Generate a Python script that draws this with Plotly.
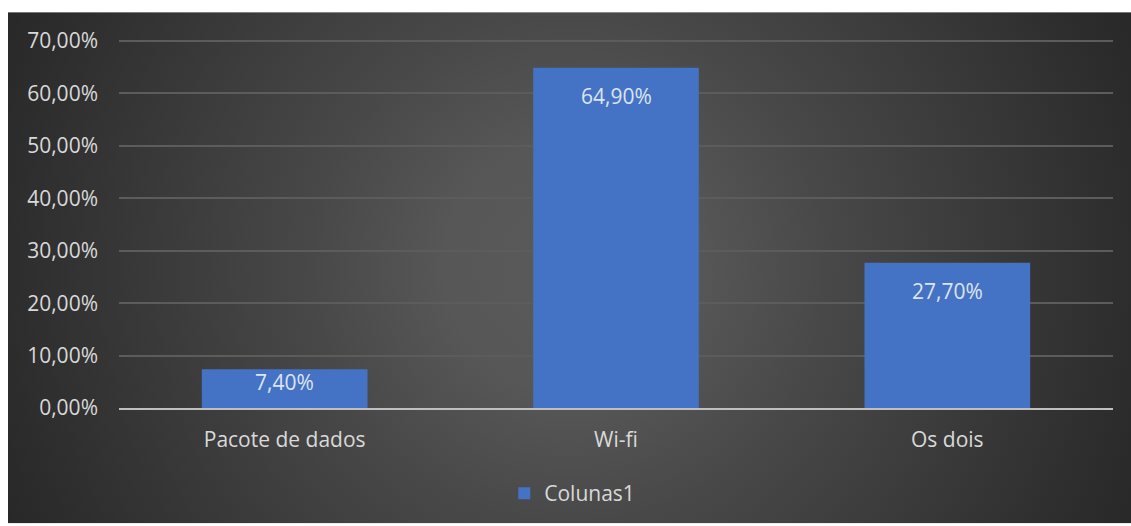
import plotly.graph_objects as go
from urllib.parse import quote

# Chart data
categories = ["Pacote de dados", "Wi-fi", "Os dois"]
values = [0.074, 0.649, 0.277]
series_name = "Colunas1"
tick_vals = [0.0, 0.1, 0.2, 0.3, 0.4, 0.5, 0.6, 0.7]
tick_text = ["0,00%", "10,00%", "20,00%", "30,00%", "40,00%", "50,00%", "60,00%", "70,00%"]

W, H = 1131, 526
# plot-area margins in pixels
ML, MR, MT, MB = 119, 18, 40, 116
PW, PH = W - ML - MR, H - MT - MB
YMAX = 0.7
YTOP = YMAX + 0.002  # a hair of headroom so the top gridline is drawn

# dark chart panel (starts a few pixels in from the top-left corner)
PX0, PY0 = 8, 12
BW, BH = W - PX0, H - PY0

FONT = "Open Sans"
FS = 21
TICK_COLOR = "#d9d9d9"
LABEL_COLOR = "#dde4f0"
BAR_COLOR = "#4472c4"


def pct(v):
    return f"{v * 100:.2f}".replace(".", ",") + "%"


# radial gradient backdrop as inline svg
svg = (
    f'<svg xmlns="http://www.w3.org/2000/svg" width="{BW}" height="{BH}">'
    f'<defs><radialGradient id="g" gradientUnits="userSpaceOnUse" '
    f'cx="{BW / 2}" cy="{BH / 2}" r="620">'
    '<stop offset="0" stop-color="#5a5a5a"/>'
    '<stop offset="0.2" stop-color="#575757"/>'
    '<stop offset="0.42" stop-color="#484848"/>'
    '<stop offset="0.9" stop-color="#2d2d2d"/>'
    '<stop offset="1" stop-color="#282828"/>'
    '</radialGradient></defs>'
    f'<rect width="{BW}" height="{BH}" fill="url(#g)"/></svg>'
)
bg_src = "data:image/svg+xml;charset=utf-8," + quote(svg)

fig = go.Figure()
fig.add_trace(go.Bar(
    x=categories,
    y=values,
    name=series_name,
    marker=dict(color=BAR_COLOR, line=dict(width=0)),
    width=0.5,
    showlegend=True,
    hoverinfo="skip",
))

# value labels just inside the top of each bar
annotations = []
for cat, v in zip(categories, values):
    bar_px = v / YTOP * PH
    offset = min(28, bar_px / 3)
    annotations.append(dict(
        x=cat, y=v, xref="x", yref="y",
        text=pct(v), showarrow=False,
        yanchor="middle", yshift=-offset,
        font=dict(family=FONT, size=FS, color=LABEL_COLOR),
    ))

fig.update_layout(
    width=W, height=H,
    margin=dict(l=ML, r=MR, t=MT, b=MB, pad=0),
    paper_bgcolor="white",
    plot_bgcolor="rgba(0,0,0,0)",
    font=dict(family=FONT, size=FS, color=TICK_COLOR),
    bargap=0.5,
    images=[dict(
        source=bg_src, xref="paper", yref="paper",
        x=(PX0 - ML) / PW, y=(H - MB - PY0) / PH,
        sizex=BW / PW, sizey=BH / PH,
        xanchor="left", yanchor="top",
        sizing="stretch", layer="below",
    )],
    xaxis=dict(
        showgrid=False, zeroline=False,
        showline=True, linecolor="#bfbfbf", linewidth=2,
        ticks="outside", ticklen=12, tickcolor="rgba(0,0,0,0)",
        tickfont=dict(family=FONT, size=FS, color=TICK_COLOR),
    ),
    yaxis=dict(
        range=[0, YTOP],
        tickvals=tick_vals, ticktext=tick_text,
        showgrid=True, gridcolor="#5c5c5c", gridwidth=2,
        zeroline=False, showline=False,
        ticks="", ticklabelstandoff=20,
        tickfont=dict(family=FONT, size=FS, color=TICK_COLOR),
    ),
    legend=dict(
        orientation="h",
        x=0.456, xanchor="center",
        y=-(496 - (H - MB)) / PH, yanchor="middle",
        font=dict(family=FONT, size=FS, color=TICK_COLOR),
        bgcolor="rgba(0,0,0,0)",
    ),
    annotations=annotations,
)

fig.write_html("out.html")
